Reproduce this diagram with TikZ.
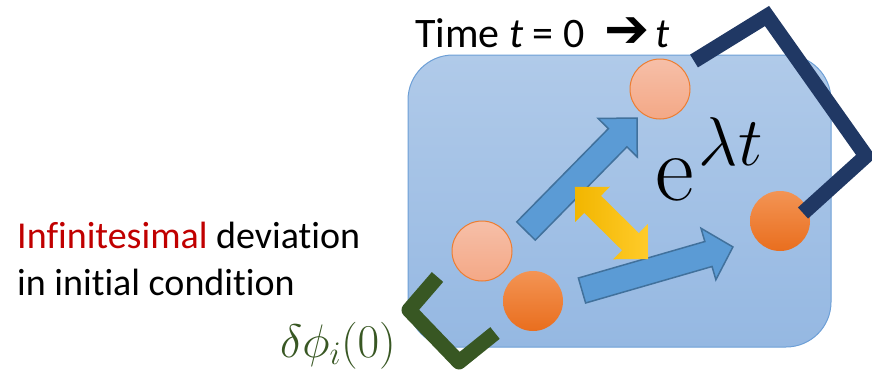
\RequirePackage{fix-cm}
\documentclass[tikz,border=0pt]{standalone}
\usepackage[no-math]{fontspec}
\setmainfont[Ligatures=NoCommon]{Carlito}
\newfontfamily\dejavu{DejaVu Sans}
\definecolor{boxtop}{HTML}{B0CAE9}
\definecolor{boxbot}{HTML}{95B8E2}
\definecolor{boxline}{HTML}{6D9FD6}
\definecolor{arrowfill}{HTML}{5B9BD5}
\definecolor{arrowline}{HTML}{41719C}
\definecolor{lighttop}{HTML}{F6BFA8}
\definecolor{lightbot}{HTML}{F4A886}
\definecolor{orangeline}{HTML}{ED7D31}
\definecolor{darktop}{HTML}{F39454}
\definecolor{darkbot}{HTML}{E96E1E}
\definecolor{navy}{HTML}{203864}
\definecolor{darkgreen}{HTML}{385723}
\definecolor{deepred}{HTML}{C00000}
\definecolor{yelA}{HTML}{F2B600}
\definecolor{yelB}{HTML}{FFCB2A}
\begin{document}
\begin{tikzpicture}[x=1pt,y=-1pt,
  box/.style={draw=boxline, line width=1pt, rounded corners=45pt, top color=boxtop, bottom color=boxbot, minimum width=423pt, minimum height=292pt, inner sep=0pt},
  lightball/.style={circle, draw=orangeline, line width=1pt, top color=lighttop, bottom color=lightbot, minimum size=60pt, inner sep=0pt},
  darkball/.style={circle, top color=darktop, bottom color=darkbot, minimum size=60pt, inner sep=0pt},
  blockarrow/.style={fill=arrowfill, draw=arrowline, line width=1.5pt, line join=miter},
  bracket/.style={line width=15pt, line join=round},
  txt/.style={anchor=base west, inner sep=0pt, font=\fontsize{38}{38}\selectfont}
]
\useasboundingbox (0,0) rectangle (872,373);
\node[box] (box) at (619.5,201) {};
% blue block arrows
\begin{scope}[shift={(526,231)}, rotate=45.5]
  \draw[blockarrow] (0,-13) -- (130.8,-13) -- (130.8,-27.5) -- (158.4,0) -- (130.8,27.5) -- (130.8,13) -- (0,13) -- cycle;
\end{scope}
\begin{scope}[shift={(582,290.5)}, rotate=16.1]
  \draw[blockarrow] (0,-13) -- (131.6,-13) -- (131.6,-26.8) -- (157.1,0) -- (131.6,26.8) -- (131.6,13) -- (0,13) -- cycle;
\end{scope}
% yellow double arrow
\begin{scope}[shift={(611.5,223)}, rotate=-44.6]
  \shade[left color=yelA, right color=yelB] (-51.3,0) -- (-26.6,24.7) -- (-26.6,12) -- (26.6,12) -- (26.6,24.7) -- (51.3,0) -- (26.6,-24.7) -- (26.6,-12) -- (-26.6,-12) -- (-26.6,-24.7) -- cycle;
\end{scope}
% balls
\node[lightball] (p0) at (482,251) {};
\node[lightball] (pt) at (660,89) {};
\node[darkball] (q0) at (533,301) {};
\node[darkball] (qt) at (780,221) {};
% exponential
\node[anchor=base west, inner sep=0pt] (expo) at (655,200) {\fontsize{95}{95}\selectfont$\mathrm{e}$\hspace{5pt}\raisebox{35pt}{\fontsize{69}{69}\selectfont$\lambda t$}};
% brackets
\coordinate (n1) at (694,61);
\coordinate (n2) at (767,16);
\coordinate (n3) at (866,156);
\coordinate (n4) at (803,213);
\draw[bracket, draw=navy, line join=miter] (n1) -- (n2) -- (n3) -- (n4);
\coordinate (g1) at (437.5,277);
\coordinate (g2) at (409,310);
\coordinate (g3) at (459,362);
\coordinate (g4) at (495,333);
\draw[bracket, draw=darkgreen] (g1) -- (g2) -- (g3) -- (g4);
% texts
\node[txt, font=\fontsize{42}{42}\selectfont] (time) at (415,47) {Time \textit{t} = 0\hspace{20pt}{\dejavu\bfseries\fontsize{54}{54}\selectfont ➔}\hspace{6pt}\textit{t}};
\node[txt] (line1) at (17,248) {\textcolor{deepred}{Infinitesimal} deviation};
\node[txt] (line2) at (17,295) {in initial condition};
\node[anchor=base west, inner sep=0pt, text=darkgreen] (dphi) at (280,357) {\fontsize{47}{47}\selectfont$\delta\phi_i(0)$};
\end{tikzpicture}
\end{document}
